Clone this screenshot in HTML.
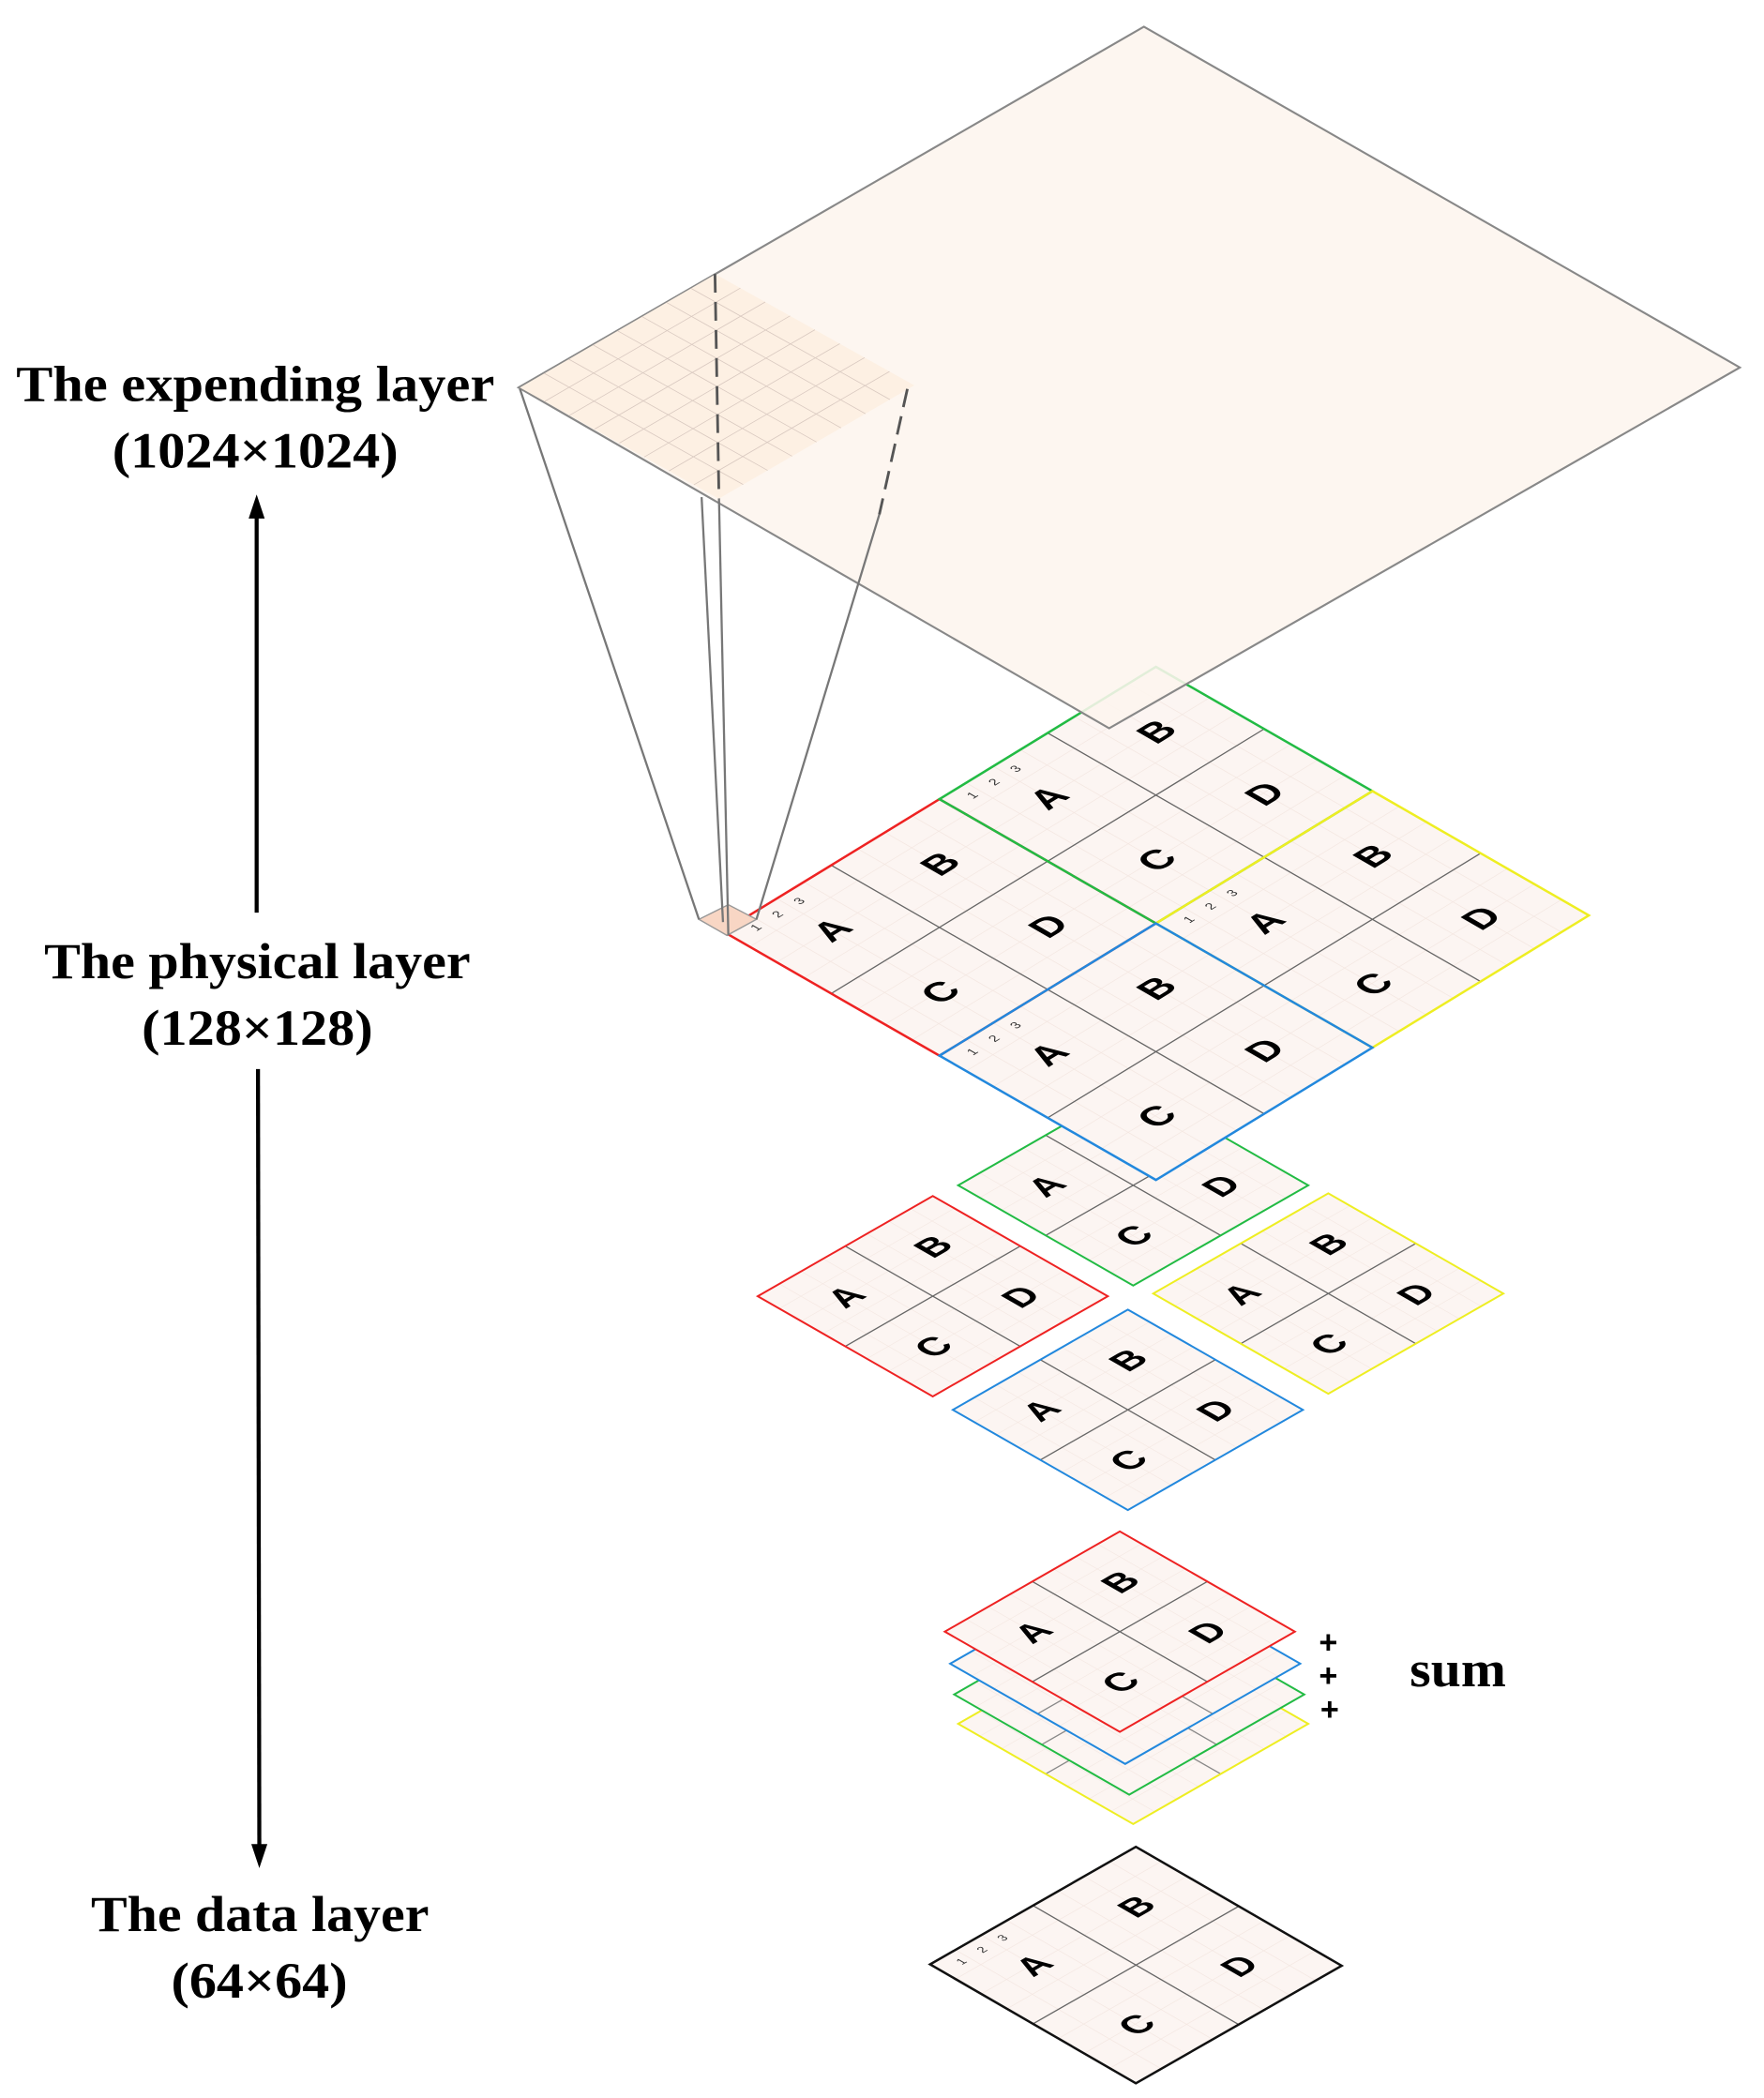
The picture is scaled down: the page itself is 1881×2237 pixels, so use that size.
<!DOCTYPE html>
<html><head><meta charset="utf-8"><style>
html,body{margin:0;padding:0;background:#fff;}
svg{display:block;}
.lbl{font-family:"Liberation Serif",serif;font-weight:bold;font-size:38px;fill:#000;}
.let{font-family:"Liberation Sans",sans-serif;font-weight:bold;font-size:0.3px;fill:#000;}
.let2{font-family:"Liberation Sans",sans-serif;font-weight:bold;font-size:0.36px;fill:#000;}
.num{font-family:"Liberation Sans",sans-serif;font-size:0.1px;fill:#333;}
.ns{vector-effect:non-scaling-stroke;}
</style></head><body>
<svg width="1881" height="2237" viewBox="0 0 1320 1570" xmlns="http://www.w3.org/2000/svg">
<defs>
<pattern id="pg" width="0.25" height="0.25" patternUnits="userSpaceOnUse">
<rect width="0.25" height="0.25" fill="#fcf5f2"/>
<path d="M0.25 0V0.25H0" fill="none" stroke="#f3e6e0" stroke-width="0.012"/>
</pattern>
<g id="cells">
<rect x="0" y="0" width="2" height="2" fill="url(#pg)"/>
<path class="ns" d="M1 0V2M0 1H2" stroke="#666" stroke-width="1.3" fill="none"/>
<text class="let" x="0.5" y="0.61" text-anchor="middle">A</text>
<text class="let" x="1.5" y="0.61" text-anchor="middle">B</text>
<text class="let" x="0.5" y="1.61" text-anchor="middle">C</text>
<text class="let" x="1.5" y="1.61" text-anchor="middle">D</text>
</g>
<g id="cells2">
<rect x="0" y="0" width="2" height="2" fill="url(#pg)"/>
<path class="ns" d="M1 0V2M0 1H2" stroke="#666" stroke-width="1.3" fill="none"/>
<text class="let2" x="0.5" y="0.63" text-anchor="middle">A</text>
<text class="let2" x="1.5" y="0.63" text-anchor="middle">B</text>
<text class="let2" x="0.5" y="1.63" text-anchor="middle">C</text>
<text class="let2" x="1.5" y="1.63" text-anchor="middle">D</text>
</g>
<g id="nums">
<text class="num" x="0.15" y="0.16">1</text>
<text class="num" x="0.35" y="0.16">2</text>
<text class="num" x="0.55" y="0.16">3</text>
</g>
<g id="plain">
<rect x="0" y="0" width="2" height="2" fill="url(#pg)"/>
<path class="ns" d="M1 0V2M0 1H2" stroke="#888" stroke-width="1.3" fill="none"/>
</g>
</defs>

<!-- left labels -->
<text class="lbl" x="12" y="300" textLength="358" lengthAdjust="spacingAndGlyphs">The expending layer</text>
<text class="lbl" x="84" y="350" textLength="214" lengthAdjust="spacingAndGlyphs">(1024×1024)</text>
<text class="lbl" x="33" y="732" textLength="319" lengthAdjust="spacingAndGlyphs">The physical layer</text>
<text class="lbl" x="106" y="782" textLength="173" lengthAdjust="spacingAndGlyphs">(128×128)</text>
<text class="lbl" x="68" y="1445" textLength="253" lengthAdjust="spacingAndGlyphs">The data layer</text>
<text class="lbl" x="128" y="1495" textLength="132" lengthAdjust="spacingAndGlyphs">(64×64)</text>
<line x1="192" y1="683" x2="192" y2="385" stroke="#000" stroke-width="3"/>
<polygon points="192,370 186,388 198,388" fill="#000"/>
<line x1="193" y1="800" x2="194" y2="1383" stroke="#000" stroke-width="3"/>
<polygon points="194,1398 188,1380 200,1380" fill="#000"/>

<!-- middle layer blocks -->
<g transform="matrix(65.5,-37.5,65.5,37.5,717,887)"><use href="#cells2"/><rect class="ns" width="2" height="2" fill="none" stroke="#22bb44" stroke-width="2"/></g>
<g transform="matrix(65.5,-37.5,65.5,37.5,567,970)"><use href="#cells2"/><rect class="ns" width="2" height="2" fill="none" stroke="#ee2222" stroke-width="2"/></g>
<g transform="matrix(65.5,-37.5,65.5,37.5,863,968)"><use href="#cells2"/><rect class="ns" width="2" height="2" fill="none" stroke="#eeee22" stroke-width="2"/></g>
<g transform="matrix(65.5,-37.5,65.5,37.5,713,1055)"><use href="#cells2"/><rect class="ns" width="2" height="2" fill="none" stroke="#2288dd" stroke-width="2"/></g>

<!-- physical layer -->
<g transform="matrix(81,-49.5,81,46.5,541,697)">
<g><use href="#cells"/><use href="#nums"/></g>
<g transform="translate(2,0)"><use href="#cells"/><use href="#nums"/></g>
<g transform="translate(2,2)"><use href="#cells"/><use href="#nums"/></g>
<g transform="translate(0,2)"><use href="#cells"/><use href="#nums"/></g>
<path class="ns" d="M0 0H2V2H0Z" fill="none" stroke="#ee2222" stroke-width="2.5"/>
<path class="ns" d="M2 0H4V2H2Z" fill="none" stroke="#22bb44" stroke-width="2.5"/>
<path class="ns" d="M2 2H4V4H2Z" fill="none" stroke="#eeee22" stroke-width="2.5"/>
<path class="ns" d="M0 2H2V4H0Z" fill="none" stroke="#2288dd" stroke-width="2.5"/>
</g>
<polygon points="523,688 545,677 566,688 544,700" fill="#f8d6c4" stroke="#999" stroke-width="1"/>

<!-- expanding layer -->
<polygon points="388,290 856,20 1302,275 830,545" fill="#fdf5ee" fill-opacity="0.88" stroke="#888" stroke-width="1.5"/>
<g transform="matrix(18.3,-10.6,18.6,10.4,389,290)">
<rect width="8" height="8" fill="#fdf0e3"/>
<path class="ns" d="M1 0V8M2 0V8M3 0V8M4 0V8M5 0V8M6 0V8M7 0V8M0 1H8M0 2H8M0 3H8M0 4H8M0 5H8M0 6H8M0 7H8" stroke="#d9c9c0" stroke-width="0.8" fill="none"/>
</g>
<line x1="535" y1="205" x2="538" y2="373" stroke="#555" stroke-width="2" stroke-dasharray="14,7"/>
<line x1="679" y1="291" x2="658" y2="385" stroke="#555" stroke-width="2" stroke-dasharray="14,7"/>
<g stroke="#777" stroke-width="1.6" fill="none">
<line x1="389" y1="291" x2="523" y2="688"/>
<line x1="525" y1="372" x2="541" y2="690"/>
<line x1="538" y1="373" x2="545" y2="700"/>
<line x1="658" y1="385" x2="566" y2="688"/>
</g>

<!-- sum stack -->
<g transform="matrix(65.5,-37.5,65.5,37.5,717,1290)"><use href="#plain"/><rect class="ns" width="2" height="2" fill="none" stroke="#eeee22" stroke-width="2"/></g>
<g transform="matrix(65.5,-37.5,65.5,37.5,714,1268)"><use href="#plain"/><rect class="ns" width="2" height="2" fill="none" stroke="#22bb44" stroke-width="2"/></g>
<g transform="matrix(65.5,-37.5,65.5,37.5,711,1245)"><use href="#plain"/><rect class="ns" width="2" height="2" fill="none" stroke="#2288dd" stroke-width="2"/></g>
<g transform="matrix(65.5,-37.5,65.5,37.5,707,1221)"><use href="#cells2"/><rect class="ns" width="2" height="2" fill="none" stroke="#ee2222" stroke-width="2"/></g>
<g font-family="Liberation Sans,sans-serif" font-weight="bold" font-size="24" text-anchor="middle">
<text x="994" y="1237">+</text><text x="994" y="1262">+</text><text x="995" y="1287">+</text>
</g>
<text class="lbl" x="1055" y="1262" textLength="72" lengthAdjust="spacingAndGlyphs">sum</text>

<!-- data layer -->
<g transform="matrix(77,-44,77,44.5,696,1470)">
<use href="#cells"/><use href="#nums"/>
<rect class="ns" width="2" height="2" fill="none" stroke="#111" stroke-width="2.5"/>
</g>
</svg>
</body></html>
